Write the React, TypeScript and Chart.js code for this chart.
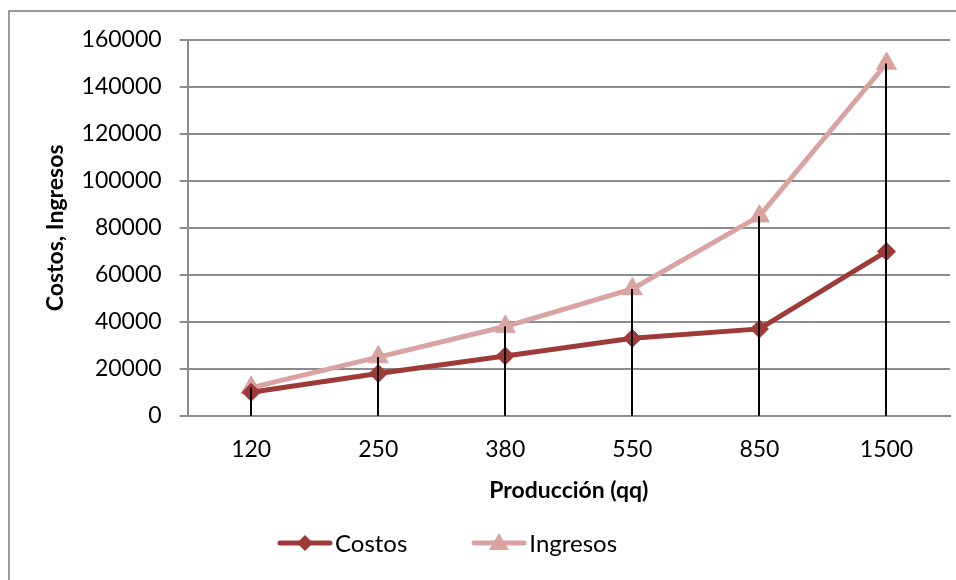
import React, { useEffect, useRef } from "react";
import { Chart, registerables } from "chart.js";

Chart.register(...registerables);

const categories = ["120", "250", "380", "550", "850", "1500"];
const costos = [10000, 18000, 25500, 33000, 37000, 70000];
const ingresos = [12000, 25000, 38000, 54000, 85000, 150000];
const seriesNames = ["Costos", "Ingresos"];
const yTitle = "Costos, Ingresos";
const xTitle = "Producción (qq)";
const yMin = 0;
const yMax = 160000;
const yStep = 20000;

const FONT = "Lato, 'Open Sans', sans-serif";
const C_COSTOS = "#9E3B39";
const C_INGRESOS = "#D9A3A1";
const GRID = "#8c8c8c";

const dropLines = {
  id: "dropLines",
  afterDatasetsDraw(chart: any) {
    const { ctx } = chart;
    const x = chart.scales.x;
    const y = chart.scales.y;
    ctx.save();
    ctx.strokeStyle = "#000";
    ctx.lineWidth = 2;
    categories.forEach((_, i) => {
      const top = Math.max(costos[i], ingresos[i]);
      const px = Math.round(x.getPixelForValue(i));
      ctx.beginPath();
      ctx.moveTo(px, y.getPixelForValue(top));
      ctx.lineTo(px, y.getPixelForValue(0));
      ctx.stroke();
    });
    ctx.restore();
  },
};

function LegendSymbol({ color, marker }: { color: string; marker: "diamond" | "triangle" }) {
  return (
    <svg width={56} height={22} style={{ display: "block" }}>
      <line x1={3} y1={11} x2={53} y2={11} stroke={color} strokeWidth={5} strokeLinecap="round" />
      {marker === "diamond" ? (
        <polygon points="28,3 36,11 28,19 20,11" fill={color} />
      ) : (
        <polygon points="28,1 38,18 18,18" fill={color} />
      )}
    </svg>
  );
}

export default function App() {
  const ref = useRef<HTMLCanvasElement>(null);
  useEffect(() => {
    if (!ref.current) return;
    const chart = new Chart(ref.current, {
      type: "line",
      data: {
        labels: categories,
        datasets: [
          {
            label: seriesNames[0],
            data: costos,
            borderColor: C_COSTOS,
            backgroundColor: C_COSTOS,
            borderWidth: 5,
            pointStyle: "rectRot",
            pointRadius: 9,
            pointBorderWidth: 1,
            pointBackgroundColor: C_COSTOS,
            pointBorderColor: C_COSTOS,
            tension: 0,
          },
          {
            label: seriesNames[1],
            data: ingresos,
            borderColor: C_INGRESOS,
            backgroundColor: C_INGRESOS,
            borderWidth: 5,
            pointStyle: "triangle",
            pointRadius: 11.5,
            pointBorderWidth: 1,
            pointBackgroundColor: C_INGRESOS,
            pointBorderColor: C_INGRESOS,
            tension: 0,
          },
        ],
      },
      options: {
        responsive: false,
        maintainAspectRatio: false,
        animation: false,
        devicePixelRatio: 1,
        layout: { autoPadding: false, padding: { left: 42, right: 6, top: 40, bottom: 76 } },
        plugins: {
          legend: { display: false },
          tooltip: { enabled: false },
        },
        scales: {
          x: {
            type: "category",
            offset: true,
            grid: { display: false },
            border: { display: true, color: GRID, width: 2 },
            ticks: { color: "#000", font: { family: FONT, size: 23 }, padding: 12 },
            title: {
              display: true,
              text: xTitle,
              color: "#000",
              font: { family: FONT, size: 23, weight: "bold" },
              padding: { top: 1, bottom: 0 },
            },
          },
          y: {
            min: yMin,
            max: yMax,
            ticks: {
              stepSize: yStep,
              color: "#000",
              font: { family: FONT, size: 23 },
              padding: 18,
              callback: (v: any) => String(v),
            },
            grid: { color: GRID, lineWidth: 2, tickLength: 8, drawTicks: true },
            border: { display: true, color: GRID, width: 2 },
            title: {
              display: true,
              text: yTitle,
              color: "#000",
              font: { family: FONT, size: 23, weight: "bold" },
              padding: { top: 0, bottom: -6 },
            },
          },
        },
      },
      plugins: [dropLines],
    });
    return () => chart.destroy();
  }, []);

  return (
    <div
      style={{
        position: "fixed",
        left: 0,
        top: 0,
        width: 956,
        height: 580,
        overflow: "hidden",
        background: "#fff",
      }}
    >
      <canvas ref={ref} width={956} height={580} style={{ position: "absolute", left: 0, top: 0 }} />
      <div
        style={{
          position: "absolute",
          left: 8,
          top: 10,
          width: 1000,
          height: 1000,
          border: "2px solid #9a9a9a",
          pointerEvents: "none",
        }}
      />
      <div
        style={{
          position: "absolute",
          left: 277,
          top: 528,
          display: "flex",
          alignItems: "center",
          fontFamily: FONT,
          fontSize: 24,
          color: "#000",
          whiteSpace: "nowrap",
        }}
      >
        <LegendSymbol color={C_COSTOS} marker="diamond" />
        <span style={{ marginLeft: 2 }}>{seriesNames[0]}</span>
        <span style={{ width: 64 }} />
        <LegendSymbol color={C_INGRESOS} marker="triangle" />
        <span style={{ marginLeft: 2 }}>{seriesNames[1]}</span>
      </div>
    </div>
  );
}
